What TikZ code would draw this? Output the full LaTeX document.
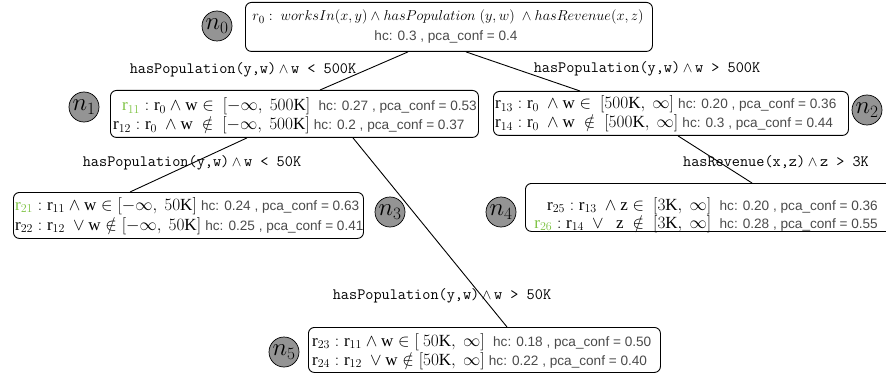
\documentclass[tikz,border=0pt]{standalone}
\usepackage{fontspec}
\setmainfont{Liberation Serif}
\newfontfamily\hcfamily{Liberation Sans}
\definecolor{rgreen}{HTML}{7DC242}
\definecolor{hcgray}{HTML}{4A4A4A}
\definecolor{numgray}{HTML}{949494}
\newcommand\hcx[1]{{\hcfamily\color{hcgray}\fontsize{13.6}{14}\selectfont #1}}
\newcommand\gr[1]{{\color{rgreen}#1}}
\begin{document}
\begin{tikzpicture}[x=1pt,y=-1pt,
  box/.style={draw, rounded corners=6pt, line width=0.9pt, inner sep=0pt, anchor=north west},
  num/.style={circle, draw, line width=0.7pt, fill=numgray, minimum size=30pt, inner sep=0pt, font=\fontsize{25}{25}\selectfont},
  lbl/.style={font=\ttfamily\fontsize{15.8}{16}\selectfont, inner sep=0pt, anchor=base},
  row/.style={font=\fontsize{17}{18}\selectfont, inner sep=0pt, anchor=base west},
  rowr/.style={font=\fontsize{17}{18}\selectfont, inner sep=0pt, anchor=base east},
  edge/.style={line width=0.9pt}]
\useasboundingbox (0,0) rectangle (886,377);

% boxes
\node[box, minimum width=407pt, minimum height=49pt] (b0) at (245,2) {};
\node[box, minimum width=368pt, minimum height=47pt] (b1) at (110,90) {};
\node[box, minimum width=355pt, minimum height=44pt] (b2) at (493,91) {};
\node[box, minimum width=350pt, minimum height=46pt] (b21) at (13,192) {};
\node[box, minimum width=370pt, minimum height=48pt] (b4) at (525,183) {};
\node[box, minimum width=352pt, minimum height=45pt] (b5) at (308,327) {};

% numbers
\node[num] (n0) at (217,26) {$n_0$};
\node[num] (n1) at (84,107) {$n_1$};
\node[num] (n2) at (867,110) {$n_2$};
\node[num] (n3) at (390,212) {$n_3$};
\node[num] (n4) at (501,212) {$n_4$};
\node[num] (n5) at (284,352) {$n_5$};

% n0 text
\node[font=\fontsize{15.8}{16}\selectfont, inner sep=0pt, anchor=base] (t0a) at (448,21)
  {$r_0 :\ worksIn(x,y) \wedge hasPopulation\ (y,w)\ \wedge hasRevenue(x,z)$};
\node[inner sep=0pt, anchor=base] (t0b) at (446,41) {\hcx{hc: 0.3 , pca\_conf = 0.4}};

% n1 text
\node[row] (t1a) at (122,111) {$\gr{\mathrm{r}_{11}}: \mathrm{r}_0 \wedge \mathrm{w} \in\ [-\infty,\ 500\mathrm{K}]$\ \ \hcx{hc: 0.27 , pca\_conf = 0.53}};
\node[row] (t1b) at (113,130) {$\mathrm{r}_{12}: \mathrm{r}_0\ \wedge \mathrm{w}\ \notin\ [-\infty,\ 500\mathrm{K}]$\ \hcx{hc: 0.2 , pca\_conf = 0.37}};

% n2 text
\node[row] (t2a) at (495,109) {$\mathrm{r}_{13}: \mathrm{r}_0\ \wedge \mathrm{w} \in\ [500\mathrm{K},\ \infty]$\ \hcx{hc: 0.20 , pca\_conf = 0.36}};
\node[row] (t2b) at (495,128) {$\mathrm{r}_{14}: \mathrm{r}_0\ \wedge \mathrm{w}\ \notin\ [500\mathrm{K},\ \infty]$\ \hcx{hc: 0.3 , pca\_conf = 0.44}};

% n21 text
\node[row] (t3a) at (15,210) {$\gr{\mathrm{r}_{21}}: \mathrm{r}_{11} \wedge \mathrm{w} \in [-\infty,\ 50\mathrm{K}]$\ \hcx{hc: 0.24 , pca\_conf = 0.63}};
\node[row] (t3b) at (15,230) {$\mathrm{r}_{22}: \mathrm{r}_{12}\ \vee \mathrm{w} \notin [-\infty,\ 50\mathrm{K}]$\ \hcx{hc: 0.25 , pca\_conf = 0.41}};

% n4 text
\node[rowr] (t4a) at (878,210) {$\mathrm{r}_{25}: \mathrm{r}_{13}\ \wedge \mathrm{z} \in\ [3\mathrm{K},\ \infty]$\ \ \hcx{hc: 0.20 , pca\_conf = 0.36}};
\node[rowr] (t4b) at (878,228) {$\gr{\mathrm{r}_{26}}: \mathrm{r}_{14}\ \vee\ \ \mathrm{z}\ \notin\ [3\mathrm{K},\ \infty]$\ \ \hcx{hc: 0.28 , pca\_conf = 0.55}};

% n5 text
\node[row] (t5a) at (312,346) {$\mathrm{r}_{23}: \mathrm{r}_{11} \wedge \mathrm{w} \in [\ 50\mathrm{K},\ \infty]$\ \ \hcx{hc: 0.18 , pca\_conf = 0.50}};
\node[row] (t5b) at (312,365) {$\mathrm{r}_{24}: \mathrm{r}_{12}\ \vee \mathrm{w} \notin [50\mathrm{K},\ \infty]$\ \hcx{hc: 0.22 , pca\_conf = 0.40}};

% edges
\draw[edge] ([xshift=163]b0.south west) -- ([xshift=210]b1.north west);
\draw[edge] ([xshift=221]b0.south west) -- ([xshift=87]b2.north west);
\draw[edge] ([xshift=137]b1.south west) -- ([xshift=117]b21.north west);
\draw[edge] ([xshift=243]b1.south west) -- ([xshift=199]b5.north west);
\draw[edge] ([xshift=185]b2.south west) -- ([xshift=227]b4.north west);

% edge labels
\node[lbl] (l1) at (243,74) {hasPopulation(y,w)\,$\wedge$\,w < 500K};
\node[lbl] (l2) at (647,73) {hasPopulation(y,w)\,$\wedge$\,w > 500K};
\node[lbl] (l3) at (192,167) {hasPopulation(y,w)\,$\wedge$\,w < 50K};
\node[lbl] (l4) at (776,167) {hasRevenue(x,z)\,$\wedge$\,z > 3K};
\node[lbl] (l5) at (442,299) {hasPopulation(y,w)\,$\wedge$\,w > 50K};
\end{tikzpicture}
\end{document}
